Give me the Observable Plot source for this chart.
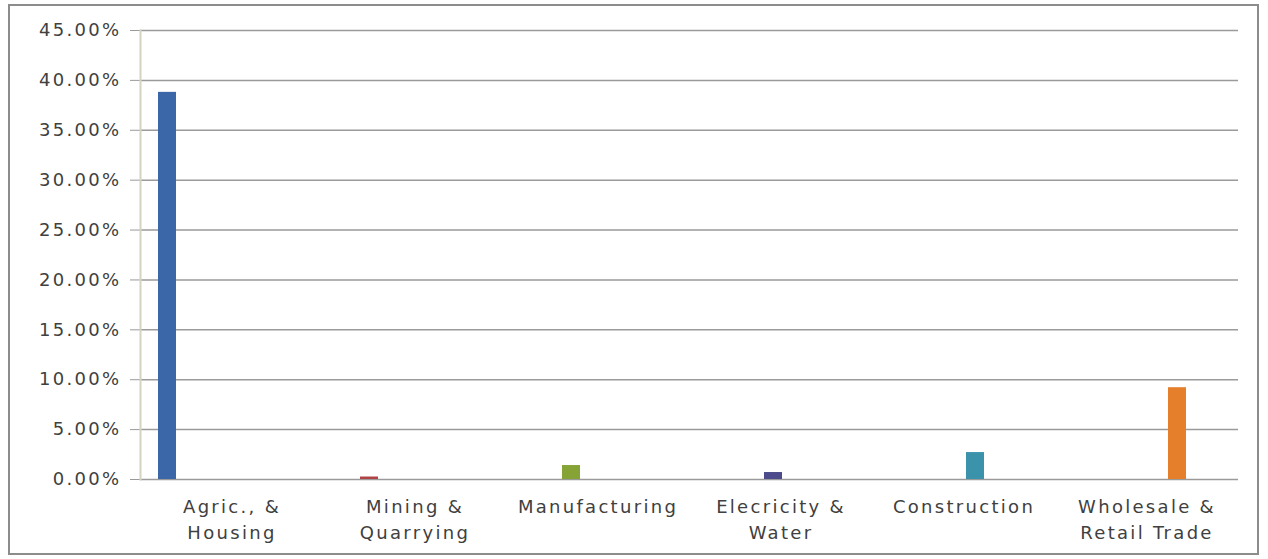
<!DOCTYPE html>
<html>
<head>
<meta charset="utf-8">
<script src="https://cdn.jsdelivr.net/npm/d3@7"></script>
<script src="https://cdn.jsdelivr.net/npm/@observablehq/plot@0.6"></script>
<style>
  html, body { margin: 0; padding: 0; background: #fff; }
  #wrap { position: relative; width: 1268px; height: 559px; }
  #border { position: absolute; left: 8px; top: 4px; width: 1247px; height: 547px; border: 2px solid #8c8c8c; pointer-events: none; }
  svg text { letter-spacing: 2.3px; }
</style>
</head>
<body>
<div id="wrap"><div id="border"></div></div>
<script>
const categories = ["Agric., & Housing", "Mining & Quarrying", "Manufacturing", "Elecricity & Water", "Construction", "Wholesale & Retail Trade"];
const categoryLabels = ["Agric., &\nHousing", "Mining &\nQuarrying", "Manufacturing", "Elecricity &\nWater", "Construction", "Wholesale &\nRetail Trade"];
const values = [38.8, 0.25, 1.4, 0.7, 2.7, 9.2];
const colors = ["#3B67A8", "#B04444", "#86A436", "#4C4C8C", "#3A93AB", "#E57F2C"];
const yTicks = [0, 5, 10, 15, 20, 25, 30, 35, 40, 45];

const data = categories.map((c, i) => ({sector: c, value: values[i]}));
const labelOf = new Map(categories.map((c, i) => [c, categoryLabels[i]]));

const chart = Plot.plot({
  width: 1268,
  height: 559,
  marginLeft: 140,
  marginRight: 30,
  marginTop: 30,
  marginBottom: 80,
  style: {fontFamily: "DejaVu Sans", fontSize: "18px", color: "#404040", background: "transparent"},
  fx: {domain: categories, padding: 0, label: null, axis: null},
  x: {domain: categories, paddingInner: 0.05, paddingOuter: 1.84, align: 0.26, axis: null},
  y: {domain: [0, 45], label: null},
  color: {domain: categories, range: colors},
  marks: [
    Plot.ruleY(yTicks, {stroke: "#9a9a9a", strokeWidth: 1.5}),
    Plot.barY(data, {fx: "sector", x: "sector", y: "value", fill: "sector"}),
    Plot.axisY({ticks: yTicks, tickFormat: d => d.toFixed(2) + "%", tickSize: 10, tickPadding: 9, stroke: "#9a9a9a", fill: "#404040", fontSize: 18, label: null}),
    Plot.axisFx({anchor: "bottom", tickFormat: d => labelOf.get(d), tickSize: 0, tickPadding: 16, fill: "#404040", fontSize: 18, lineHeight: 1.4, label: null}),
    Plot.frame({anchor: "left", facet: "super", stroke: "#d6d2c2", strokeWidth: 2})
  ]
});
document.getElementById("wrap").prepend(chart);
chart.style.position = "absolute";
chart.style.left = "0px";
chart.style.top = "0px";
</script>
</body>
</html>
